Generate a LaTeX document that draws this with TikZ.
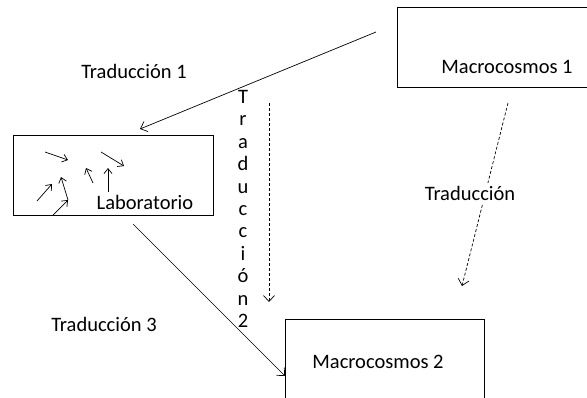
\documentclass[tikz,border=0pt]{standalone}
\usepackage{fontspec}
\setmainfont{Carlito}
\usetikzlibrary{arrows.meta}

\begin{document}
\begin{tikzpicture}[x=1pt, y=-1pt,
box/.style={draw, line width=0.9pt, inner sep=0pt},
txt/.style={font=\fontsize{20.5}{24}\selectfont, inner sep=0pt},
arrow/.style={-{Straight Barb[length=6pt,width=11pt]}, line width=0.7pt},
smallarrow/.style={-{Straight Barb[length=5pt,width=8pt]}, line width=0.7pt},
dasharrow/.style={arrow, dash pattern=on 3pt off 2pt}
]
\useasboundingbox (0,0) rectangle (587,397);
\clip (0,0) rectangle (587,397);

% boxes
\node[box, minimum width=220pt, minimum height=80pt] (macro1) at (507,47) {};
\node[box, minimum width=200pt, minimum height=80pt] (lab) at (113,175) {};
\node[box, minimum width=199pt, minimum height=100pt] (macro2) at (384.5,369) {};

% texts
\node[txt] (macro1txt) at (507,67) {Macrocosmos 1};
\node[txt] (labtxt) at (145,202) {Laboratorio};
\node[txt] (macro2txt) at (378,362) {Macrocosmos 2};
\node[txt] (trad1) at (134,71) {Traducción 1};
\node[txt] (trad3) at (104,324) {Traducción 3};
\node[txt, align=center, font=\fontsize{20.5}{22.4}\selectfont] (trad2) at (243,209)
  {T\\r\\a\\d\\u\\c\\c\\i\\ó\\n\\2};

% connectors
\coordinate (t1start) at (376,32);
\coordinate (t1end) at (140,129);
\draw[arrow] (t1start) -- (t1end);

\coordinate (t3start) at (133,224);
\coordinate (t3end) at (285,376);
\draw[arrow] (t3start) -- (t3end);

\coordinate (t2start) at (269,103);
\coordinate (t2end) at (269,302);
\draw[dasharrow] (t2start) -- (t2end);

\coordinate (tstart) at (508,103);
\coordinate (tend) at (462,286);
\draw[dasharrow] (tstart) -- (tend);
\node[txt, fill=white, inner xsep=2pt, inner ysep=3pt] (trad) at (470,193) {Traducción};

% small arrows inside the laboratory
\foreach \ax/\ay/\bx/\by in {45/152/68/160, 101/152/124/166, 93/183/86/168,
  108/192/108/168, 37/201/52/184, 68/200/61/177, 53/215/68/200}
  \draw[smallarrow] (\ax,\ay) -- (\bx,\by);
\end{tikzpicture}
\end{document}
